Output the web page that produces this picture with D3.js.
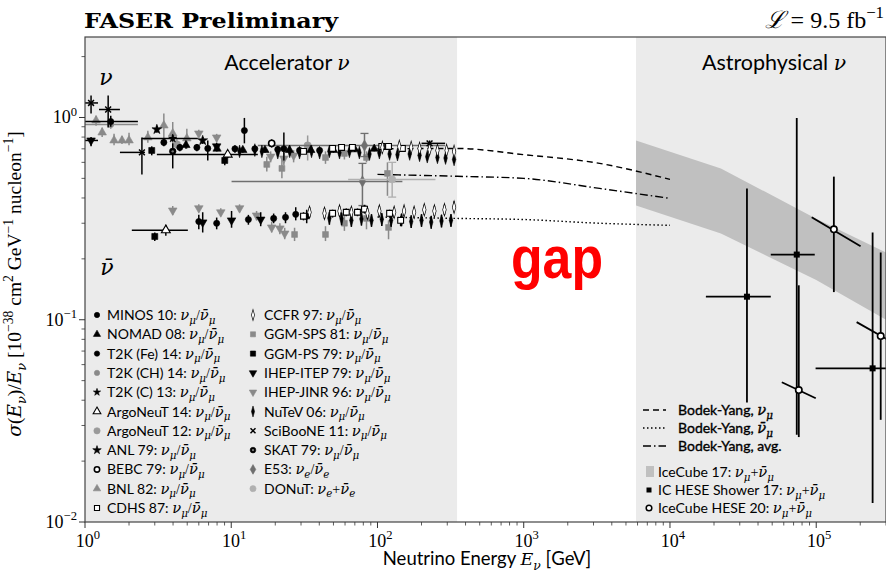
<!DOCTYPE html>
<html>
<head>
<meta charset="utf-8">
<script src="https://cdn.jsdelivr.net/npm/d3@7/dist/d3.min.js"></script>
<style>
  body { margin: 0; background: #fff; }
</style>
</head>
<body>
<svg id="chart" width="886" height="572"></svg>
<script>
// rows: [E (GeV), sigma/E, sigma low, sigma high, E low, E high]
const minos = [[3.46,0.753,0.72,0.79],[4.45,0.711,0.68,0.74],[5.82,0.711,0.68,0.74],[6.91,0.703,0.613,0.77],
  [10.6,0.70,0.67,0.73],[12.3,0.862,0.745,0.995],[14.5,0.70,0.67,0.73],[20.8,0.695,0.67,0.72],[22.9,0.70,0.613,0.843],
  [29.3,0.687,0.66,0.71],[40.2,0.687,0.66,0.71],
  [6.0,0.306,0.28,0.33],[7.95,0.30,0.28,0.32],[13.1,0.313,0.295,0.33],[19.5,0.317,0.30,0.335],
  [23.5,0.321,0.30,0.34],[27.6,0.332,0.31,0.36],[32.8,0.325,0.30,0.35]];
const nomad = [[4.9,0.73,0.70,0.76],[8.0,0.70,0.68,0.72],[12,0.69,0.67,0.71],[17,0.69,0.67,0.71],[25,0.69,0.67,0.71],
  [35,0.69,0.67,0.71],[50,0.69,0.67,0.71],[70,0.695,0.675,0.715],[95,0.70,0.68,0.72]];
const t2kFe = [[1.50,0.955,0.90,1.02,0.97,2.30]];
const t2kCH = [[1.50,0.924,0.88,0.97,0.97,2.30]];
const t2kC = [[3.98,0.788,0.76,0.82,2.45,5.91]];
const argo14 = [[9.46,0.656,0.63,0.69,3.10,15.2],[3.57,0.277,0.26,0.295,2.09,5.05]];
const argo12 = [[4.25,0.736,0.70,0.78],[33.3,0.727,0.613,0.815]];
const anl = [[3.10,0.873,0.84,0.91],[6.38,0.77,0.74,0.80]];
const bebc = [[18.9,0.745,0.71,0.78]];
const bnl = [[1.19,0.967,0.91,1.02],[1.31,0.843,0.80,0.89],[1.58,0.77,0.73,0.83],[1.79,0.77,0.74,0.81],
  [2.00,0.77,0.73,0.84],[2.69,0.797,0.75,0.86],[3.46,0.913,0.788,1.046],[3.98,0.834,0.70,0.95],[4.97,0.788,0.70,0.88]];
const cdhs = [[31.2,0.68,0.66,0.70],[49.3,0.703,0.68,0.725],[56.8,0.711,0.69,0.73],[67.4,0.711,0.69,0.73],
  [107,0.719,0.70,0.74],[119,0.719,0.70,0.74],[148,0.703,0.68,0.725],
  [31.2,0.325,0.31,0.34],[49.3,0.336,0.32,0.35],[61.2,0.34,0.325,0.355],[73.0,0.34,0.325,0.355],
  [81.5,0.352,0.335,0.37],[121,0.336,0.32,0.35],[144,0.31,0.29,0.325]];
const ccfr = [[108,0.711,0.69,0.735],[141,0.719,0.695,0.745],[170,0.711,0.69,0.735],[194,0.703,0.68,0.73],
  [227,0.695,0.67,0.72],[257,0.687,0.665,0.71],[297,0.687,0.665,0.71],[334,0.68,0.655,0.705],
  [34.3,0.34,0.32,0.36],[43.4,0.336,0.316,0.356],[55.0,0.345,0.325,0.365],[66.3,0.34,0.32,0.36],
  [85.4,0.336,0.316,0.356],[103,0.345,0.325,0.365],[130,0.34,0.32,0.36],[152,0.345,0.325,0.365],
  [178,0.34,0.32,0.36],[209,0.35,0.33,0.37],[245,0.345,0.325,0.365],[287,0.35,0.33,0.37],[334,0.36,0.34,0.385]];
const ggmSps = [[17.5,0.586,0.54,0.64],[22.2,0.56,0.50,0.64],[44.1,0.634,0.59,0.68],[59.4,0.664,0.62,0.70],
  [84.1,0.634,0.60,0.68],[117,0.529,0.41,0.60],
  [27.1,0.264,0.245,0.285],[44.1,0.264,0.245,0.29],[59.4,0.30,0.275,0.33],[84.1,0.317,0.28,0.34],[119,0.286,0.25,0.31]];
const ggmPs = [[2.86,0.687,0.65,0.72],[9.03,0.613,0.58,0.65],[3.0,0.258,0.245,0.27]];
const ihepItep = [[1.10,0.77,0.72,0.80,0.97,1.227],[7.95,0.72,0.69,0.75],
  [6.38,0.303,0.27,0.34],[10.05,0.31,0.285,0.345],[15.9,0.313,0.29,0.34]];
const ihepJinr = [[6.0,0.834,0.80,0.87],[7.95,0.797,0.76,0.83],[18.6,0.641,0.60,0.68],[22.9,0.627,0.58,0.67],
  [26.7,0.649,0.60,0.69],
  [3.98,0.347,0.33,0.365],[6.0,0.356,0.34,0.372],[8.48,0.34,0.325,0.356],[11.4,0.356,0.34,0.372],
  [14.9,0.328,0.31,0.345],[18.9,0.286,0.27,0.305],[21.5,0.283,0.265,0.30],[23.2,0.267,0.25,0.285]];
const nutev = [[11.4,0.68,0.655,0.705],[14.5,0.69,0.665,0.715],[16.2,0.68,0.655,0.705],[20.8,0.67,0.645,0.695],
  [25.1,0.68,0.655,0.705],[29.3,0.67,0.645,0.695],[35.4,0.68,0.655,0.705],[40.2,0.67,0.645,0.695],
  [46.9,0.68,0.655,0.705],[55.0,0.67,0.645,0.695],[64.3,0.68,0.655,0.705],[75.2,0.67,0.645,0.695],
  [88.2,0.66,0.635,0.685],[103,0.67,0.645,0.695],[121,0.66,0.635,0.685],[137,0.655,0.63,0.68],
  [166,0.66,0.635,0.685],[194,0.65,0.625,0.675],[219,0.64,0.615,0.665],[257,0.635,0.61,0.66],
  [292,0.63,0.605,0.655],[334,0.62,0.595,0.645],
  [46.9,0.318,0.295,0.34],[56.8,0.316,0.293,0.338],[66.3,0.31,0.288,0.332],[77.7,0.315,0.292,0.337],
  [91.0,0.31,0.288,0.332],[107,0.314,0.291,0.336],[124,0.31,0.288,0.332],[146,0.312,0.29,0.334],
  [170,0.306,0.284,0.328],[200,0.31,0.288,0.332],[233,0.304,0.282,0.326],[274,0.308,0.286,0.33],[318,0.31,0.288,0.332]];
const sciboone = [[1.10,1.18,1.046,1.285,0.97,1.227],[1.44,1.095,0.892,1.285,1.246,1.733],
  [2.45,0.672,0.523,0.797,1.733,2.57],[227,0.745,0.72,0.77,200,290]];
const skat = [[3.98,0.68,0.56,0.745]];
const e53 = [[81.5,0.727,0.641,0.834,15.2,290],[78.9,0.483,0.367,0.593,10.05,148]];
const donut = [[126,0.494,0.404,0.60,63,249]];

// Bodek-Yang predictions
const byEnergy = [100, 350, 1000, 3300, 10000];
const byNu = [0.70, 0.703, 0.655, 0.593, 0.494];
const byNubar = [0.322, 0.317, 0.313, 0.30, 0.293];
const byAvg = [0.523, 0.512, 0.50, 0.446, 0.398];

// IceCube 17 band
const icEnergy = [5.86e3, 2.23e4, 1.0e5, 3.0e5];
const icHigh = [0.77, 0.56, 0.316, 0.215];
const icLow = [0.367, 0.267, 0.157, 0.10];

// IC HESE shower 17: [E, sigma, low, high, E low, E high]
const heseShower = [[3.36e4,0.13,0.039,0.446,1.76e4,4.89e4],[7.36e4,0.21,0.027,0.995,4.89e4,9.77e4],
  [2.43e5,0.0575,0.0124,0.27,9.9e4,5e5]];
// IceCube HESE 20: [E, sigma, low, high, E a, sigma a, E b, sigma b]
const hese20 = [[7.6e4,0.0449,0.0263,0.148,5.82e4,0.0491,9.93e4,0.0409],
  [1.32e5,0.28,0.137,0.51,9.31e4,0.321,2.01e5,0.231],
  [2.76e5,0.083,0.032,0.215,1.89e5,0.0973,3.75e5,0.0736]];

const SANS = "Lato, 'DejaVu Sans', sans-serif";
const SERIF = "'Liberation Serif', 'DejaVu Serif', serif";
const MATH = "'DejaVu Serif', serif";
const BLACK = "#000", GREY = "#8a8a8a", SHADE = "#ebebeb";

const svg = d3.select("#chart");
const x = d3.scaleLog().domain([1, 3e5]).range([85, 886]);
const y = d3.scaleLog().domain([0.01, 2.5]).range([522, 37]);

// rich text with sub/superscripts; ms = size factor for math italics
function rich(sel, segs, size, ms = 1) {
  let shift = 0;
  segs.forEach(([t, k]) => {
    const ts = sel.append("tspan").text(t);
    let target = 0;
    if (k === "sub") target = size * 0.26;
    else if (k === "sup") target = -size * 0.42;
    ts.attr("dy", target - shift);
    shift = target;
    if (k === "t") ts.attr("font-family", SANS);
    else if (k === "m" || k === "sub") ts.attr("font-family", MATH).attr("font-style", "italic");
    else ts.attr("font-family", SERIF);
    if (k === "m") ts.attr("font-size", size * ms);
    if (k === "sub" || k === "sup") ts.attr("font-size", size * 0.7 * (k === "sub" ? ms : 1));
  });
}

// background shading
svg.append("rect").attr("x", x(1)).attr("y", 37).attr("width", x(350) - x(1)).attr("height", 485).attr("fill", SHADE);
svg.append("rect").attr("x", x(5.86e3)).attr("y", 37).attr("width", 886 - x(5.86e3)).attr("height", 485).attr("fill", SHADE);

svg.append("defs").append("clipPath").attr("id", "clip")
  .append("rect").attr("x", 85).attr("y", 37).attr("width", 801).attr("height", 485);
const plot = svg.append("g").attr("clip-path", "url(#clip)");

// IceCube band
const bandData = icEnergy.map((e, i) => ({e, lo: icLow[i], hi: icHigh[i]}));
plot.append("path").datum(bandData)
  .attr("d", d3.area().x(d => x(d.e)).y0(d => y(d.lo)).y1(d => y(d.hi)))
  .attr("fill", "#c0c0c0");

// Bodek-Yang lines
const byLine = d3.line().x(d => x(d[0])).y(d => y(d[1])).curve(d3.curveMonotoneX);
[[byNu, "6,4"], [byNubar, "1.5,2.5"], [byAvg, "8,3,1.5,3"]].forEach(([vals, dash]) => {
  plot.append("path").datum(byEnergy.map((e, i) => [e, vals[i]]))
    .attr("d", byLine).attr("fill", "none").attr("stroke", BLACK)
    .attr("stroke-width", 1.4).attr("stroke-dasharray", dash);
});

// marker shapes
const symbols = {
  circle: d3.symbolCircle, tri: d3.symbolTriangle, triDown: d3.symbolTriangle,
  square: d3.symbolSquare, diamond: d3.symbolDiamond, thin: d3.symbolDiamond,
  star: d3.symbolStar, times: d3.symbolTimes
};
function marker(g, s, px, py) {
  let tf = `translate(${px},${py})`;
  if (s.shape === "triDown") tf += " rotate(180)";
  if (s.shape === "thin") tf += " scale(0.6,1.25)";
  const p = g.append("path").attr("transform", tf)
    .attr("d", d3.symbol(symbols[s.shape], s.size)())
    .attr("fill", s.shape === "times" ? "none" : s.fill)
    .attr("stroke", s.stroke || s.fill)
    .attr("stroke-width", s.sw || (s.shape === "times" ? 1.5 : 0.6));
  if (s.inner) {
    g.append("circle").attr("cx", px).attr("cy", py).attr("r", 1.2).attr("fill", "#777");
  }
  return p;
}

const series = [
  {label: "BNL 82", rows: bnl, shape: "tri", size: 32, fill: GREY},
  {label: "IHEP-JINR 96", rows: ihepJinr, shape: "triDown", size: 32, fill: GREY},
  {label: "GGM-SPS 81", rows: ggmSps, shape: "square", size: 34, fill: GREY},
  {label: "T2K (CH) 14", rows: t2kCH, shape: "circle", size: 30, fill: GREY},
  {label: "ArgoNeuT 12", rows: argo12, shape: "circle", size: 42, fill: "#9a9a9a"},
  {label: "E53", rows: e53, shape: "diamond", size: 36, fill: "#6f6f6f", caps: true, nue: true},
  {label: "DONuT", rows: donut, shape: "circle", size: 40, fill: "#b0b0b0", caps: true, nue: true, sum: true},
  {label: "MINOS 10", rows: minos, shape: "circle", size: 30, fill: BLACK},
  {label: "NOMAD 08", rows: nomad, shape: "tri", size: 30, fill: BLACK},
  {label: "T2K (Fe) 14", rows: t2kFe, shape: "circle", size: 30, fill: BLACK},
  {label: "T2K (C) 13", rows: t2kC, shape: "star", size: 22, fill: BLACK},
  {label: "ANL 79", rows: anl, shape: "star", size: 30, fill: BLACK},
  {label: "GGM-PS 79", rows: ggmPs, shape: "square", size: 36, fill: BLACK},
  {label: "IHEP-ITEP 79", rows: ihepItep, shape: "triDown", size: 32, fill: BLACK},
  {label: "NuTeV 06", rows: nutev, shape: "thin", size: 30, fill: BLACK},
  {label: "SciBooNE 11", rows: sciboone, shape: "times", size: 24, fill: BLACK},
  {label: "SKAT 79", rows: skat, shape: "circle", size: 34, fill: BLACK, inner: true},
  {label: "ArgoNeuT 14", rows: argo14, shape: "tri", size: 34, fill: "#fff", stroke: BLACK, sw: 1.1},
  {label: "BEBC 79", rows: bebc, shape: "circle", size: 30, fill: "#fff", stroke: BLACK, sw: 1.6},
  {label: "CDHS 87", rows: cdhs, shape: "square", size: 34, fill: "#fff", stroke: BLACK, sw: 1.1},
  {label: "CCFR 97", rows: ccfr, shape: "thin", size: 30, fill: "#fff", stroke: BLACK, sw: 1.0}
];

// error bars, then markers
series.forEach(s => {
  const g = plot.append("g");
  const ec = s.fill === "#fff" ? BLACK : s.fill;
  g.selectAll(".ey").data(s.rows).join("line")
    .attr("x1", d => x(d[0])).attr("x2", d => x(d[0]))
    .attr("y1", d => y(d[2])).attr("y2", d => y(d[3]))
    .attr("stroke", ec).attr("stroke-width", 1.5);
  g.selectAll(".ex").data(s.rows.filter(d => d.length > 4)).join("line")
    .attr("x1", d => x(d[4])).attr("x2", d => x(d[5]))
    .attr("y1", d => y(d[1])).attr("y2", d => y(d[1]))
    .attr("stroke", ec).attr("stroke-width", 1.5);
  if (s.caps) {
    s.rows.forEach(d => {
      [d[2], d[3]].forEach(v => g.append("line")
        .attr("x1", x(d[0]) - 4).attr("x2", x(d[0]) + 4).attr("y1", y(v)).attr("y2", y(v))
        .attr("stroke", ec).attr("stroke-width", 1.3));
    });
  }
  s.rows.forEach(d => marker(g, s, x(d[0]), y(d[1])));
});

// astrophysical points
const astro = plot.append("g");
heseShower.forEach(d => {
  astro.append("line").attr("x1", x(d[0])).attr("x2", x(d[0])).attr("y1", y(d[2])).attr("y2", y(d[3]))
    .attr("stroke", BLACK).attr("stroke-width", 1.8);
  astro.append("line").attr("x1", x(d[4])).attr("x2", x(d[5])).attr("y1", y(d[1])).attr("y2", y(d[1]))
    .attr("stroke", BLACK).attr("stroke-width", 1.8);
  astro.append("rect").attr("x", x(d[0]) - 3).attr("y", y(d[1]) - 3).attr("width", 6).attr("height", 6).attr("fill", BLACK);
});
hese20.forEach(d => {
  astro.append("line").attr("x1", x(d[0])).attr("x2", x(d[0])).attr("y1", y(d[2])).attr("y2", y(d[3]))
    .attr("stroke", BLACK).attr("stroke-width", 1.8);
  astro.append("line").attr("x1", x(d[4])).attr("x2", x(d[6])).attr("y1", y(d[5])).attr("y2", y(d[7]))
    .attr("stroke", BLACK).attr("stroke-width", 1.8);
  astro.append("circle").attr("cx", x(d[0])).attr("cy", y(d[1])).attr("r", 3.2)
    .attr("fill", "#fff").attr("stroke", BLACK).attr("stroke-width", 1.6);
});

// frame
svg.append("rect").attr("x", 85).attr("y", 37).attr("width", 801).attr("height", 485)
  .attr("fill", "none").attr("stroke", "#444").attr("stroke-width", 1.2);

// ticks
const xMajor = [1, 10, 100, 1e3, 1e4, 1e5];
const xMinor = [];
xMajor.forEach(m => { for (let k = 2; k <= 9; k++) if (m * k <= 3e5) xMinor.push(m * k); });
const yMajor = [0.01, 0.1, 1];
const yMinor = [];
yMajor.forEach(m => { for (let k = 2; k <= 9; k++) if (m * k <= 2.5) yMinor.push(m * k); });
const ticks = svg.append("g").attr("stroke", "#333");
xMajor.forEach(v => ticks.append("line").attr("x1", x(v)).attr("x2", x(v)).attr("y1", 522).attr("y2", 528).attr("stroke-width", 1));
xMinor.forEach(v => ticks.append("line").attr("x1", x(v)).attr("x2", x(v)).attr("y1", 522).attr("y2", 525.5).attr("stroke-width", 0.8));
yMajor.forEach(v => ticks.append("line").attr("x1", 79).attr("x2", 85).attr("y1", y(v)).attr("y2", y(v)).attr("stroke-width", 1));
yMinor.forEach(v => ticks.append("line").attr("x1", 81.5).attr("x2", 85).attr("y1", y(v)).attr("y2", y(v)).attr("stroke-width", 0.8));

xMajor.forEach((v, i) => {
  const t = svg.append("text").attr("x", x(v) + 3).attr("y", 547).attr("text-anchor", "middle").attr("font-size", 18);
  rich(t, [["10", "r"], [String(i), "sup"]], 18);
});
["−2", "−1", "0"].forEach((p, i) => {
  const t = svg.append("text").attr("x", 77).attr("y", y(yMajor[i]) + 6).attr("text-anchor", "end").attr("font-size", 18);
  rich(t, [["10", "r"], [p, "sup"]], 18);
});

// axis labels
const xl = svg.append("text").attr("x", 487).attr("y", 565).attr("text-anchor", "middle").attr("font-size", 18.5);
rich(xl, [["Neutrino Energy ", "t"], ["E", "m"], ["ν", "sub"], [" [GeV]", "t"]], 18.5, 0.95);
const yl = svg.append("text").attr("transform", "translate(21,284) rotate(-90)").attr("text-anchor", "middle").attr("font-size", 19.5);
rich(yl, [["σ", "m"], ["(", "r"], ["E", "m"], ["ν", "sub"], [")/", "r"], ["E", "m"], ["ν", "sub"],
  [" [10", "r"], ["−38", "sup"], [" cm", "r"], ["2", "sup"], [" GeV", "r"], ["−1", "sup"], [" nucleon", "r"], ["−1", "sup"], ["]", "r"]], 19.5, 0.95);

// titles
svg.append("text").attr("x", 84).attr("y", 28).attr("font-family", "'DejaVu Serif', serif").attr("font-weight", "bold")
  .attr("font-size", 20).attr("textLength", 254).attr("lengthAdjust", "spacingAndGlyphs").text("FASER Preliminary");
const lum = svg.append("text").attr("x", 884).attr("y", 28).attr("text-anchor", "end").attr("font-size", 24);
rich(lum, [["ℒ", "m"], [" = 9.5 fb", "r"], ["−1", "sup"]], 24);

svg.append("text").attr("x", 287).attr("y", 70).attr("text-anchor", "middle").attr("font-size", 21.5)
  .call(t => rich(t, [["Accelerator ", "t"], ["ν", "m"]], 21.5, 0.95));
svg.append("text").attr("x", 774).attr("y", 70).attr("text-anchor", "middle").attr("font-size", 21.5)
  .call(t => rich(t, [["Astrophysical ", "t"], ["ν", "m"]], 21.5, 0.95));
svg.append("text").attr("x", 106).attr("y", 85).attr("text-anchor", "middle").attr("font-size", 22)
  .attr("font-family", MATH).attr("font-style", "italic").text("ν");
svg.append("text").attr("x", 107).attr("y", 275).attr("text-anchor", "middle").attr("font-size", 22)
  .attr("font-family", MATH).attr("font-style", "italic").text("ν̄");

svg.append("text").attr("x", 557).attr("y", 278).attr("text-anchor", "middle").attr("font-family", "'Liberation Sans', Arial, sans-serif")
  .attr("font-weight", "bold").attr("font-size", 60).attr("textLength", 92).attr("lengthAdjust", "spacingAndGlyphs")
  .attr("fill", "#ff0000").text("gap");

// legend: accelerator data
const legOrder1 = ["MINOS 10", "NOMAD 08", "T2K (Fe) 14", "T2K (CH) 14", "T2K (C) 13", "ArgoNeuT 14", "ArgoNeuT 12",
  "ANL 79", "BEBC 79", "BNL 82", "CDHS 87"];
const legOrder2 = ["CCFR 97", "GGM-SPS 81", "GGM-PS 79", "IHEP-ITEP 79", "IHEP-JINR 96", "NuTeV 06", "SciBooNE 11",
  "SKAT 79", "E53", "DONuT"];
const leg = svg.append("g");
[[legOrder1, 97, 107], [legOrder2, 253, 264]].forEach(([names, mx, tx]) => {
  names.forEach((n, i) => {
    const s = series.find(d => d.label === n);
    const ry = 315 + i * 19.3;
    marker(leg, Object.assign({}, s, {size: s.size * 0.75}), mx, ry);
    const t = leg.append("text").attr("x", tx).attr("y", ry + 5).attr("font-size", 14);
    const flav = s.nue ? "e" : "μ";
    rich(t, [[n + ": ", "t"], ["ν", "m"], [flav, "sub"], [s.sum ? "+" : "/", "r"], ["ν̄", "m"], [flav, "sub"]], 14, 1.05);
  });
});

// legend: Bodek-Yang and IceCube
[["6,4", [["ν", "m"], ["μ", "sub"]]], ["1.5,2.5", [["ν̄", "m"], ["μ", "sub"]]], ["8,3,1.5,3", [["avg.", "t"]]]]
  .forEach(([dash, lab], i) => {
    const ry = 410 + i * 18;
    leg.append("line").attr("x1", 643).attr("x2", 666).attr("y1", ry).attr("y2", ry)
      .attr("stroke", BLACK).attr("stroke-width", 1.4).attr("stroke-dasharray", dash);
    const t = leg.append("text").attr("x", 678).attr("y", ry + 5).attr("font-size", 14)
      .attr("stroke", BLACK).attr("stroke-width", 0.35);
    rich(t, [["Bodek-Yang, ", "t"]].concat(lab), 14, 1.05);
  });
leg.append("rect").attr("x", 646).attr("y", 466).attr("width", 8).attr("height", 11).attr("fill", "#c0c0c0");
leg.append("rect").attr("x", 646.5).attr("y", 487.5).attr("width", 5).attr("height", 5).attr("fill", BLACK);
leg.append("circle").attr("cx", 649).attr("cy", 508).attr("r", 2.8).attr("fill", "#fff").attr("stroke", BLACK).attr("stroke-width", 1.5);
["IceCube 17: ", "IC HESE Shower 17: ", "IceCube HESE 20: "].forEach((n, i) => {
  const t = leg.append("text").attr("x", 658).attr("y", 477 + i * 18).attr("font-size", 14);
  rich(t, [[n, "t"], ["ν", "m"], ["μ", "sub"], ["+", "r"], ["ν̄", "m"], ["μ", "sub"]], 14, 1.05);
});
</script>
</body>
</html>
